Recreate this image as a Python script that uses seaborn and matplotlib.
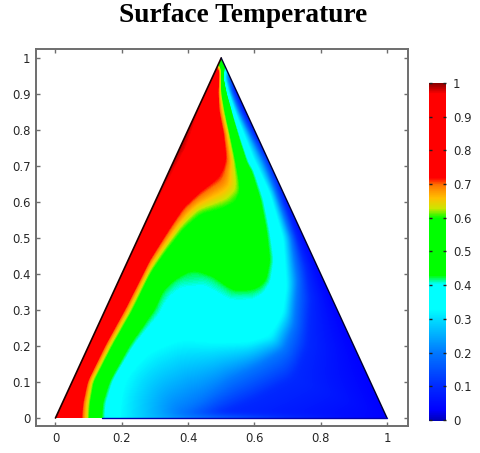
import numpy as np
import seaborn as sns
import matplotlib
matplotlib.use("Agg")
import matplotlib.pyplot as plt
import matplotlib.tri as mtri
from matplotlib.colors import LinearSegmentedColormap

# isotherms, (x, y) along each one
red_x = [0.079, 0.082, 0.096, 0.149, 0.209, 0.265, 0.285, 0.345, 0.384, 0.435, 0.50, 0.517, 0.516, 0.51, 0.495, 0.493, 0.498]
red_y = [0.0, 0.04, 0.1, 0.2, 0.3, 0.4, 0.439, 0.528, 0.583, 0.628, 0.675, 0.717, 0.736, 0.792, 0.856, 0.911, 0.975]
green_top_x = [0.10, 0.103, 0.113, 0.169, 0.23, 0.285, 0.336, 0.384, 0.435, 0.495, 0.55, 0.559, 0.556, 0.535, 0.516, 0.50, 0.50]
green_top_y = [0.0, 0.04, 0.1, 0.2, 0.3, 0.406, 0.472, 0.528, 0.569, 0.583, 0.60, 0.633, 0.667, 0.753, 0.828, 0.903, 0.97]
green_mid_x = [0.33, 0.40, 0.47, 0.54, 0.60, 0.61, 0.59, 0.565, 0.54, 0.515]
green_mid_y = [0.40, 0.45, 0.44, 0.40, 0.42, 0.52, 0.60, 0.68, 0.78, 0.88]
green_low_x = [0.139, 0.142, 0.164, 0.224, 0.30, 0.325, 0.355, 0.395, 0.425, 0.475, 0.535, 0.595, 0.622, 0.64, 0.652, 0.637, 0.622, 0.595, 0.58, 0.556, 0.535, 0.511]
green_low_y = [0.0, 0.04, 0.1, 0.2, 0.3, 0.351, 0.379, 0.402, 0.406, 0.389, 0.35, 0.35, 0.361, 0.383, 0.439, 0.531, 0.606, 0.689, 0.708, 0.772, 0.836, 0.931]
cyan_x = [0.19, 0.194, 0.203, 0.276, 0.375, 0.474, 0.577, 0.65, 0.69, 0.70, 0.69, 0.65, 0.60, 0.55, 0.525]
cyan_y = [0.0, 0.04, 0.105, 0.18, 0.217, 0.208, 0.208, 0.225, 0.292, 0.364, 0.50, 0.625, 0.717, 0.836, 0.90]
mid_x = [0.38, 0.44, 0.525, 0.62, 0.69, 0.72, 0.73, 0.712, 0.675, 0.63, 0.553, 0.515]
mid_y = [0.015, 0.05, 0.105, 0.15, 0.19, 0.258, 0.383, 0.50, 0.60, 0.717, 0.856, 0.95]
deep_x = [0.50, 0.6, 0.72, 0.76, 0.77, 0.755, 0.71, 0.665, 0.578, 0.528]
deep_y = [0.01, 0.05, 0.11, 0.2, 0.33, 0.42, 0.55, 0.66, 0.82, 0.92]
left_x = [0.0, 0.05, 0.1, 0.15, 0.2, 0.25, 0.3, 0.35, 0.4, 0.45, 0.475]
left_y = [0.0, 0.1, 0.2, 0.3, 0.4, 0.5, 0.6, 0.7, 0.8, 0.9, 0.95]
right_x = [1.0, 0.95, 0.9, 0.85, 0.8, 0.75, 0.7, 0.65, 0.6, 0.55, 0.525]
right_y = [0.0, 0.1, 0.2, 0.3, 0.4, 0.5, 0.6, 0.7, 0.8, 0.9, 0.95]
apex_x = [0.5]
apex_y = [1.0]

iso_temps = [0.72, 0.60, 0.52, 0.42, 0.33, 0.20, 0.10, 1.0, 0.03, 0.45]
iso_lines = [(red_x, red_y), (green_top_x, green_top_y), (green_mid_x, green_mid_y), (green_low_x, green_low_y),
             (cyan_x, cyan_y), (mid_x, mid_y), (deep_x, deep_y), (left_x, left_y), (right_x, right_y), (apex_x, apex_y)]

ticks = [0, 0.2, 0.4, 0.6, 0.8, 1]
yticks = [0, 0.1, 0.2, 0.3, 0.4, 0.5, 0.6, 0.7, 0.8, 0.9, 1]
ticklabels = ["0", "0.1", "0.2", "0.3", "0.4", "0.5", "0.6", "0.7", "0.8", "0.9", "1"]

stops = [(0.0, (0, 0, 0.72)), (0.03, (0, 0, 1)), (0.1, (0, 0.16, 1)), (0.2, (0, 0.47, 1)), (0.3, (0, 0.87, 1)),
         (0.33, (0, 1, 1)), (0.405, (0, 1, 1)), (0.43, (0, 1, 0)), (0.60, (0, 1, 0)), (0.63, (0.8, 0.9, 0)),
         (0.66, (1, 0.75, 0)), (0.70, (1, 0.45, 0)), (0.72, (1, 0, 0)), (0.97, (1, 0, 0)), (1.0, (0.55, 0, 0))]
temp_cmap = LinearSegmentedColormap.from_list("temp", stops, N=512)


def along(lx, ly, step=0.006):
    # walk a read-off line in small steps so the triangulation keeps to it
    lx, ly = np.array(lx), np.array(ly)
    if len(lx) < 2:
        return lx, ly
    s = np.r_[0, np.cumsum(np.hypot(np.diff(lx), np.diff(ly)))]
    t = np.arange(0, s[-1], step)
    return np.interp(t, s, lx), np.interp(t, s, ly)


xs, ys, ts = [], [], []
for temp, (lx, ly) in zip(iso_temps, iso_lines):
    px, py = along(lx, ly)
    xs += list(px)
    ys += list(py)
    ts += [temp] * len(px)

sns.set_style("white")
plt.rcParams["font.family"] = "DejaVu Sans"
grey = "#6e6e6e"
txt = "#262626"

fig = plt.figure(figsize=(4.8, 4.53), dpi=100)
W, H = 480, 453
pos = [36 / W, (H - 426) / H, 372 / W, 377 / H]
xlim = (-0.0587, 1.0633)
ylim = (-0.0222, 1.025)

# field goes through sns.heatmap, one cell per pixel; the real scale is on an axes laid over it
tri = mtri.Triangulation(xs, ys)
gx = np.linspace(xlim[0], xlim[1], 372)
gy = np.linspace(ylim[1], ylim[0], 377)
gridx, gridy = np.meshgrid(gx, gy)
field = np.ma.filled(mtri.LinearTriInterpolator(tri, ts)(gridx, gridy), np.nan)

# soft edges, the reference is a blurry picture
inside = np.isfinite(field) & (gridy >= 0) & (gridx >= gridy / 2) & (gridx <= 1 - gridy / 2)
kern = np.exp(-0.5 * (np.arange(-8, 9) / 2.6) ** 2)
top = np.where(inside, field, 0.0)
wgt = inside.astype(float)
for axis in (0, 1):
    top = np.apply_along_axis(np.convolve, axis, top, kern, mode="same")
    wgt = np.apply_along_axis(np.convolve, axis, wgt, kern, mode="same")
field = np.where(inside, top / np.maximum(wgt, 1e-9), np.nan)

ax_img = fig.add_axes(pos)
sns.heatmap(field, ax=ax_img, cmap=temp_cmap, vmin=0, vmax=1, cbar=False,
            xticklabels=False, yticklabels=False)
ax_img.axis("off")

ax = fig.add_axes(pos, facecolor="none")
ax.set_xlim(xlim)
ax.set_ylim(ylim)
ax.plot([0, 0.5], [0, 1], color="#200000", lw=1.2, solid_capstyle="round")
ax.plot([0.5, 1], [1, 0], color="#000030", lw=1.0, solid_capstyle="round")
ax.plot([0.139, 1], [0, 0], color="#0000b0", lw=1.0)
ax.set_xticks(ticks)
ax.set_xticklabels([str(t) for t in ticks])
ax.set_yticks(yticks)
ax.set_yticklabels(ticklabels)
ax.tick_params(direction="in", length=3, width=1, color=grey, labelcolor=txt, labelsize=8.4,
               top=True, right=True, bottom=True, left=True, pad=4)
for s in ax.spines.values():
    s.set_color(grey)
    s.set_linewidth(1.4)

# colour bar
cpos = [429 / W, (H - 421) / H, 17 / W, 338 / H]
cax_img = fig.add_axes(cpos)
sns.heatmap(np.linspace(1, 0, 338)[:, None], ax=cax_img, cmap=temp_cmap, vmin=0, vmax=1, cbar=False,
            xticklabels=False, yticklabels=False)
cax_img.axis("off")
cax = fig.add_axes(cpos, facecolor="none")
cax.set_xticks([])
cax.set_ylim(-0.003, 1.0)
cax.set_yticks(yticks)
cax.set_yticklabels(ticklabels)
cax.yaxis.tick_right()
cax.tick_params(axis="y", direction="in", length=2, width=1, color="#202020", labelcolor=txt, labelsize=8.4,
                left=True, right=True, pad=5)
for s in cax.spines.values():
    s.set_visible(False)

fig.text(243 / W, 1 - 15 / H, "Surface Temperature", family="Liberation Serif", weight="bold",
         fontsize=19.7, color="black", ha="center", va="center")

fig.savefig("out.png", dpi=100, facecolor="white")
